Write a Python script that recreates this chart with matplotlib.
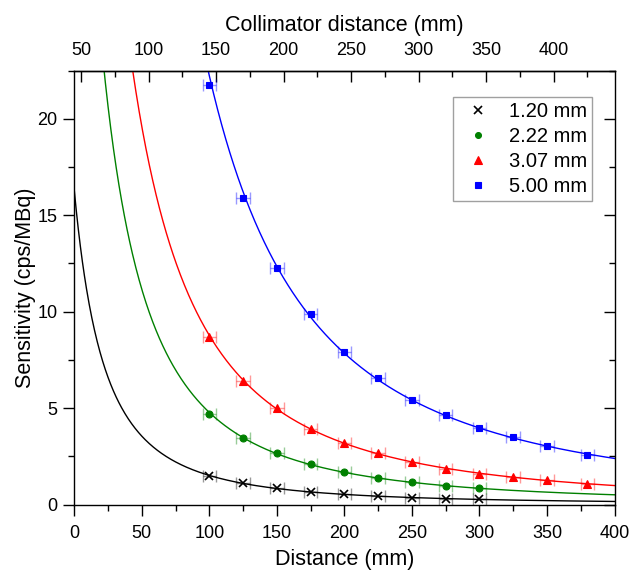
import numpy as np
import matplotlib
matplotlib.use("Agg")
import matplotlib.pyplot as plt
from matplotlib.ticker import MultipleLocator, FixedLocator
from matplotlib import lines as mlines

plt.rcParams['font.family'] = ['Liberation Sans', 'DejaVu Sans']

# Data (distance in mm, sensitivity in cps/MBq)
labels = ["1.20 mm", "2.22 mm", "3.07 mm", "5.00 mm"]
colors = ["#000000", "#008000", "#ff0000", "#0000ff"]
markers = ["x", "o", "^", "s"]

d_120 = [100, 125, 150, 175, 200, 225, 250, 275, 300]
s_120 = [1.46, 1.09, 0.84, 0.67, 0.52, 0.43, 0.36, 0.31, 0.26]

d_222 = [100, 125, 150, 175, 200, 225, 250, 275, 300]
s_222 = [4.69, 3.43, 2.67, 2.11, 1.67, 1.36, 1.15, 0.97, 0.84]

d_307 = [100, 125, 150, 175, 200, 225, 250, 275, 300, 325, 350, 380]
s_307 = [8.68, 6.41, 4.98, 3.92, 3.18, 2.67, 2.20, 1.86, 1.59, 1.43, 1.29, 1.05]

d_500 = [100, 125, 150, 175, 200, 225, 250, 275, 300, 325, 350, 380]
s_500 = [21.76, 15.87, 12.25, 9.87, 7.91, 6.56, 5.43, 4.62, 3.96, 3.50, 3.03, 2.57]

x_err = 5.0               # horizontal error (mm)
collimator_offset = 45.0  # collimator distance = distance + offset
top_major = [50, 100, 150, 200, 250, 300, 350, 400]
top_minor = [75, 125, 175, 225, 275, 325, 375, 425]

series = [(d_120, s_120), (d_222, s_222), (d_307, s_307), (d_500, s_500)]

fig = plt.figure(figsize=(6.3, 5.72), dpi=100)
ax = fig.add_axes([0.1179, 0.118, 0.8575, 0.7587])

xfit = np.linspace(0.0, 400.0, 800)
for (d, s), lab, col, mk in zip(series, labels, colors, markers):
    d = np.asarray(d, float)
    s = np.asarray(s, float)
    # inverse-square fit: 1/sqrt(S) = a + b*d
    b, a = np.polyfit(d, 1.0 / np.sqrt(s), 1)
    yfit = 1.0 / (a + b * xfit) ** 2
    ax.plot(xfit, yfit, color=col, lw=1.0, zorder=2)
    ax.errorbar(d, s, xerr=x_err, fmt='none', ecolor=col, alpha=0.4,
                elinewidth=1.0, capsize=4, capthick=1.0, zorder=3)
    ms = 6 if mk in ("x", "^") else 5
    ax.plot(d, s, linestyle='none', marker=mk, color=col, ms=ms,
            mew=1.2 if mk == "x" else 0.8, label=lab, zorder=4)

ax.set_xlim(0, 400)
ax.set_ylim(0, 22.5)
ax.xaxis.set_major_locator(MultipleLocator(50))
ax.xaxis.set_minor_locator(MultipleLocator(25))
ax.yaxis.set_major_locator(MultipleLocator(5))
ax.yaxis.set_minor_locator(MultipleLocator(2.5))

ax.tick_params(axis='both', which='major', direction='out', length=8, width=1,
               pad=4, labelsize=13, colors='black')
ax.tick_params(axis='x', which='major', pad=6.5)
ax.tick_params(axis='both', which='minor', direction='out', length=4.5, width=1)
ax.tick_params(axis='y', which='both', right=True)
# right ticks point inward
for t in ax.yaxis.get_major_ticks():
    t.tick2line.set_marker(mlines.TICKLEFT)
    t.tick2line.set_markersize(8)
for t in ax.yaxis.get_minor_ticks():
    t.tick2line.set_marker(mlines.TICKLEFT)
    t.tick2line.set_markersize(4.5)

for sp in ax.spines.values():
    sp.set_linewidth(1.0)
    sp.set_color('black')

ax.set_xlabel("Distance (mm)", fontsize=15.5, labelpad=5.5)
ax.set_ylabel("Sensitivity (cps/MBq)", fontsize=15.5, labelpad=1)

top = ax.secondary_xaxis('top', functions=(lambda x: x + collimator_offset,
                                            lambda x: x - collimator_offset))
top.xaxis.set_major_locator(FixedLocator(top_major))
top.xaxis.set_minor_locator(FixedLocator(top_minor))
top.tick_params(which='major', direction='in', length=8, width=1, pad=8,
                labelsize=13)
top.tick_params(which='minor', direction='in', length=4.5, width=1)
top.spines['top'].set_linewidth(1.0)
top.set_xlabel("Collimator distance (mm)", fontsize=15.5, labelpad=8)

leg = ax.legend(loc='upper right', bbox_to_anchor=(0.958, 0.939),
                borderaxespad=0, fontsize=14.5, frameon=True, fancybox=False,
                edgecolor='#888888', handlelength=2.0, handletextpad=0.5,
                borderpad=0.25, labelspacing=0.3, markerscale=0.85)
leg.get_frame().set_linewidth(1.0)

fig.savefig("out.png", dpi=100)
